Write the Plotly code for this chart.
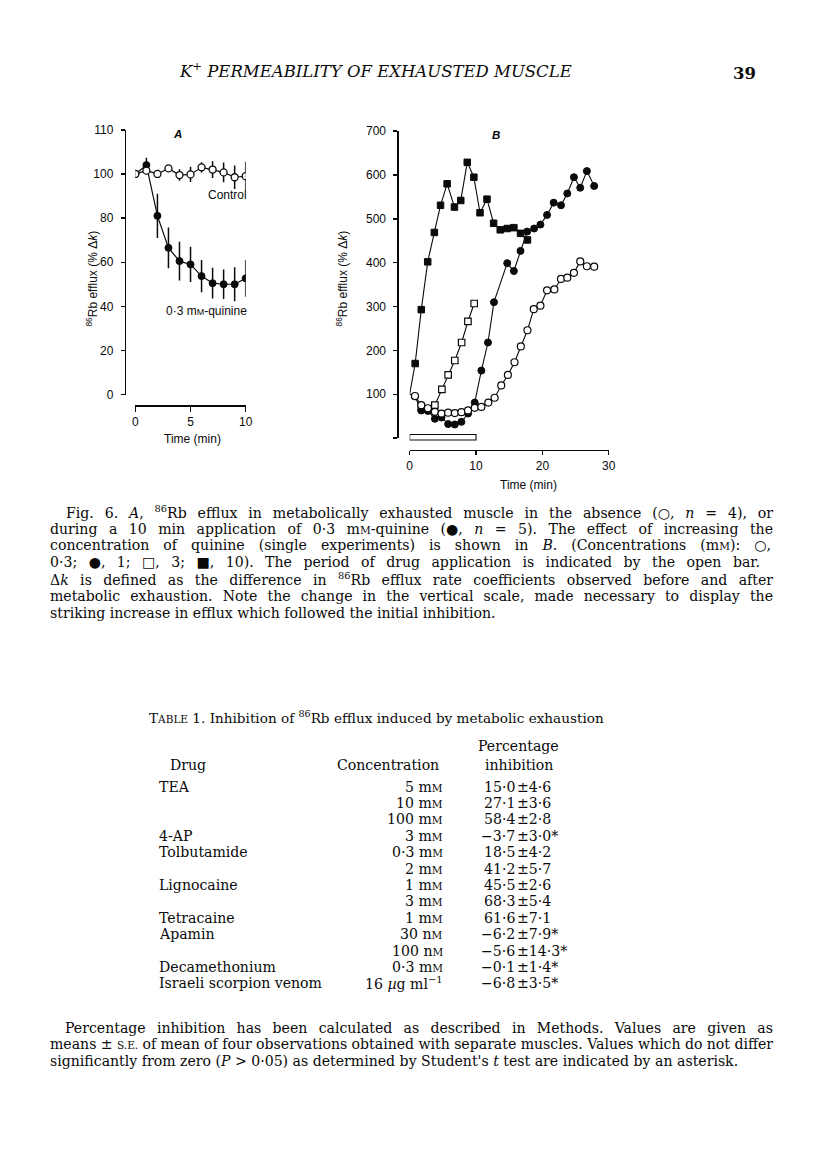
import json
import plotly.graph_objects as go

W, H = 816, 1170
def fx(px): return px / W
def fy(py): return 1 - py / H

# ---------------- Panel A data ----------------
a_time = [0, 1, 2, 3, 4, 5, 6, 7, 8, 9, 10]
a_control = [100, 101.5, 100, 102.5, 99.5, 99.8, 103, 102, 100.7, 98.5, 99]
a_control_err = [0, 0, 1.6, 0, 2.6, 3.5, 2.3, 3.8, 4.5, 5.3, 6.5]
a_quinine = [100, 104, 81, 66.5, 60.5, 59, 53.7, 50.5, 50, 50, 52.7]
a_quinine_err = [0, 3.3, 10, 9.2, 8.8, 8, 7.3, 7, 6.7, 7.7, 8.3]
a_yticks = [0, 20, 40, 60, 80, 100, 120]
a_yticklabels = ["0", "20", "40", "60", "80", "100", "110"]
a_xticks = [0, 5, 10]

# ---------------- Panel B data ----------------
b_start_t, b_start_v = 0, 100
b_oc_t = [0.8, 1.75, 2.75, 3.8, 4.8, 5.8, 6.8, 7.8, 8.8, 9.8, 10.8, 11.85, 12.8, 13.8,
          14.8, 15.8, 16.75, 17.75, 18.7, 19.7, 20.7, 21.8, 22.8, 23.75, 24.75, 25.7, 26.7, 27.8]
b_oc_v = [96, 75, 68, 60, 56, 58, 57, 59, 63, 69, 71, 81, 92, 120,
          144, 173, 209, 246, 294, 302, 337, 339, 363, 366, 377, 403, 392, 391]
b_fc_t = [0.8, 1.75, 2.75, 3.8, 4.8, 5.8, 6.8, 7.8, 8.8, 9.8, 10.8, 11.8, 12.7, 14.7,
          15.7, 16.7, 17.7, 18.75, 19.7, 20.7, 21.7, 22.8, 23.75, 24.75, 25.7, 26.7, 27.8]
b_fc_v = [95, 63, 62, 44, 47, 32, 31, 37, 56, 81, 154, 218, 310, 399,
          381, 427, 471, 478, 487, 509, 537, 531, 558, 595, 571, 609, 575]
b_os_t = [1.75, 2.75, 3.8, 4.85, 5.8, 6.8, 7.83, 8.78, 9.72]
b_os_v = [70, 66, 75, 111, 144, 177, 218, 266, 307]
b_fs_t = [0.83, 1.75, 2.72, 3.72, 4.65, 5.65, 6.75, 7.7, 8.68, 9.67, 10.6, 11.65,
          12.65, 13.65, 14.7, 15.7, 16.7, 17.75]
b_fs_v = [170, 293, 402, 469, 531, 580, 527, 542, 629, 595, 514, 545,
          490, 475, 478, 480, 467, 452]
b_drug_period = [0, 10]
b_yticks = [0, 100, 200, 300, 400, 500, 600, 700]
b_yticklabels = ["", "100", "200", "300", "400", "500", "600", "700"]
b_xticks = [0, 10, 20, 30]

# ---------------- Table data ----------------
t_drugs = ["TEA", "", "", "4-AP", "Tolbutamide", "", "Lignocaine", "", "Tetracaine",
           "Apamin", "", "Decamethonium", "Israeli scorpion venom"]
t_conc_val = ["5", "10", "100", "3", "0·3", "2", "1", "3", "1", "30", "100", "0·3", "16"]
t_conc_unit = ["mM", "mM", "mM", "mM", "mM", "mM", "mM", "mM", "mM", "nM", "nM", "mM", "ugml"]
t_mean = [15.0, 27.1, 58.4, -3.7, 18.5, 41.2, 45.5, 68.3, 61.6, -6.2, -5.6, -0.1, -6.8]
t_sem = [4.6, 3.6, 2.8, 3.0, 4.2, 5.7, 2.6, 5.4, 7.1, 7.9, 14.3, 1.4, 3.5]
t_nonsig = [False, False, False, True, False, False, False, False, False, True, True, True, True]

SERIF = "DejaVu Serif"
SANS = "Liberation Sans"
BLACK = "#0a0a0a"
BODY = 14.1


def sc(s, size):
    return "<span style='font-size:%gpx'>%s</span>" % (size, s)


def num(v):
    s = ("%.1f" % abs(v)).replace(".", "·")
    return ("−" + s) if v < 0 else s


fig = go.Figure()

# ---- Panel A traces ----
fig.add_trace(go.Scatter(
    x=a_time, y=a_quinine, mode="lines+markers", xaxis="x", yaxis="y",
    line=dict(color=BLACK, width=1.2),
    marker=dict(symbol="circle", size=7, color=BLACK, line=dict(color=BLACK, width=1)),
    error_y=dict(type="data", array=a_quinine_err, color=BLACK, thickness=1.5, width=0),
    showlegend=False))
fig.add_trace(go.Scatter(
    x=a_time, y=a_control, mode="lines+markers", xaxis="x", yaxis="y",
    line=dict(color=BLACK, width=1.2),
    marker=dict(symbol="circle", size=7, color="white", line=dict(color=BLACK, width=1.3)),
    error_y=dict(type="data", array=a_control_err, color=BLACK, thickness=1.5, width=0),
    showlegend=False))

# ---- Panel B traces ----
fs_t = [b_start_t] + b_fs_t
fs_v = [b_start_v] + b_fs_v
fig.add_trace(go.Scatter(
    x=fs_t, y=fs_v, mode="lines+markers", xaxis="x2", yaxis="y2",
    line=dict(color=BLACK, width=1.1),
    marker=dict(symbol="square", size=6.5, color=BLACK, line=dict(color=BLACK, width=1),
                opacity=[0] + [1] * len(b_fs_t)),
    showlegend=False))
fig.add_trace(go.Scatter(
    x=b_os_t, y=b_os_v, mode="lines+markers", xaxis="x2", yaxis="y2",
    line=dict(color=BLACK, width=1.1),
    marker=dict(symbol="square", size=6.5, color="white", line=dict(color=BLACK, width=1.2)),
    showlegend=False))
fig.add_trace(go.Scatter(
    x=b_fc_t, y=b_fc_v, mode="lines+markers", xaxis="x2", yaxis="y2",
    line=dict(color=BLACK, width=1.1),
    marker=dict(symbol="circle", size=7, color=BLACK, line=dict(color=BLACK, width=1)),
    showlegend=False))
oc_t = [b_start_t] + b_oc_t
oc_v = [b_start_v] + b_oc_v
fig.add_trace(go.Scatter(
    x=oc_t, y=oc_v, mode="lines+markers", xaxis="x2", yaxis="y2",
    line=dict(color=BLACK, width=1.1),
    marker=dict(symbol="circle", size=7, color="white", line=dict(color=BLACK, width=1.2),
                opacity=[0] + [1] * len(b_oc_t)),
    showlegend=False))

tickfont = dict(family=SANS, size=12, color=BLACK)
axcommon = dict(showgrid=False, zeroline=False, showline=True, linecolor=BLACK, linewidth=1.4,
                ticks="outside", tickcolor=BLACK, tickwidth=1.4, tickfont=tickfont,
                anchor="free")

fig.update_layout(
    width=W, height=H, margin=dict(l=0, r=0, t=0, b=0),
    paper_bgcolor="white", plot_bgcolor="rgba(0,0,0,0)",
    xaxis=dict(domain=[fx(134), fx(245.7)], range=[0, 10], tickvals=a_xticks,
               position=fy(403.3), ticklen=5, ticklabelstandoff=0, **axcommon),
    yaxis=dict(domain=[fy(392.3), fy(124.3)], range=[0, 120], tickvals=a_yticks,
               ticktext=a_yticklabels, position=fx(123.3), ticklen=4, ticklabelstandoff=5,
               **axcommon),
    xaxis2=dict(domain=[fx(411.7), fx(613.3)], range=[0, 30], tickvals=b_xticks,
                position=fy(448.3), ticklen=4, ticklabelstandoff=0, **axcommon),
    yaxis2=dict(domain=[fy(436.3), fy(125.7)], range=[0, 700], tickvals=b_yticks,
                ticktext=b_yticklabels, position=fx(399.3), ticklen=4, ticklabelstandoff=5,
                **axcommon),
)

# open bar showing drug period
fig.add_shape(type="rect", xref="x2", yref="paper", x0=b_drug_period[0], x1=b_drug_period[1],
              y0=fy(438.3), y1=fy(432.7), line=dict(color=BLACK, width=1.1), fillcolor="white")

ann = []
justify = []  # (annotation index, target width in px)


def text(x, y, s, size=BODY, family=SERIF, xanchor="left", yanchor="middle", target=None, **kw):
    if target is not None:
        justify.append([len(ann), target - x])
    ann.append(dict(x=fx(x), y=fy(y), xref="paper", yref="paper", text=s, showarrow=False,
                    xanchor=xanchor, yanchor=yanchor, borderpad=0,
                    align=xanchor if xanchor != "center" else "center",
                    font=dict(family=family, size=size, color=BLACK), **kw))


# header
text(377, 64, "<i>K<sup>+</sup> PERMEABILITY OF EXHAUSTED MUSCLE</i>", size=16.5, xanchor="center")
text(751, 67, "<b>39</b>", size=16.5, xanchor="center")

# panel labels
text(177, 129, "<i><b>A</b></i>", size=11.5, family=SANS, xanchor="center")
text(499, 130, "<i><b>B</b></i>", size=11.5, family=SANS, xanchor="center")
text(248, 190, "Control", size=12, family=SANS, xanchor="right")
text(248, 308, "0·3 m" + sc("M", 9) + "-quinine", size=12, family=SANS, xanchor="right")
text(192, 437, "Time (min)", size=12, family=SANS, xanchor="center")
text(532, 484, "Time (min)", size=12, family=SANS, xanchor="center")
ylab = "<sup>86</sup>Rb efflux (% Δ<i>k</i>)"
text(90, 275, ylab, size=12, family=SANS, xanchor="center", textangle=-90)
text(343, 275, ylab, size=12, family=SANS, xanchor="center", textangle=-90)

# caption
MM = "m" + sc("M", 10.5)
cap = [
    (63, 770, "Fig. 6. <i>A</i>, <sup>86</sup>Rb efflux in metabolically exhausted muscle in the absence (○, <i>n</i> = 4), or"),
    (47, 770, "during a 10 min application of 0·3 " + MM + "-quinine (●, <i>n</i> = 5). The effect of increasing the"),
    (47, 768, "concentration of quinine (single experiments) is shown in <i>B</i>. (Concentrations (" + MM + "): ○,"),
    (47, 757, "0·3; ●, 1; □, 3; ■, 10). The period of drug application is indicated by the open bar."),
    (47, 770, "Δ<i>k</i> is defined as the difference in <sup>86</sup>Rb efflux rate coefficients observed before and after"),
    (47, 770, "metabolic exhaustion. Note the change in the vertical scale, made necessary to display the"),
    (47, None, "striking increase in efflux which followed the initial inhibition."),
]
for i, (x0, x1, s) in enumerate(cap):
    text(x0, 511 + 17 * i, s, target=x1)

# table
text(147, 719, "T" + sc("ABLE", 10.5) + " 1. Inhibition of <sup>86</sup>Rb efflux induced by metabolic exhaustion",
     size=13.6)
text(187, 767, "Drug", xanchor="center")
text(390, 767, "Concentration", xanchor="center")
text(522, 748, "Percentage", xanchor="center")
text(522, 767, "inhibition", xanchor="center")
units = {"mM": MM, "nM": "n" + sc("M", 10.5), "ugml": "<i>µ</i>g ml<sup>−1</sup>"}
for i in range(len(t_drugs)):
    y = 789 + 16.6 * i
    if t_drugs[i]:
        text(157, y, t_drugs[i])
    text(446, y, t_conc_val[i] + " " + units[t_conc_unit[i]], xanchor="right")
    text(519.5, y, num(t_mean[i]), xanchor="right")
    text(519, y, "±" + num(t_sem[i]) + ("*" if t_nonsig[i] else ""))

# footnote
text(62, 1033, "Percentage inhibition has been calculated as described in Methods. Values are given as",
     target=770)
text(47, 1050, "means ± " + sc("S.E.", 10.5) + " of mean of four observations obtained with separate muscles. Values which do not differ",
     target=770)
text(47, 1067, "significantly from zero (<i>P</i> > 0·05) as determined by Student's <i>t</i> test are indicated by an asterisk.")

fig.update_layout(annotations=ann)

post = """
document.body.style.margin = '0';
document.body.style.padding = '0';
var gd = document.getElementById('{plot_id}');
var J = %s;
J.forEach(function(p) {
  var t = gd.querySelector('.annotation[data-index="' + p[0] + '"] text.annotation-text');
  if (!t) return;
  var n = (t.textContent.match(/[ \\u00a0]/g) || []).length;
  var w = t.getComputedTextLength();
  if (n > 0) t.style.wordSpacing = ((p[1] - w) / n) + 'px';
});
""" % json.dumps(justify)

fig.write_html("out.html", post_script=post, config={"displayModeBar": False, "staticPlot": True})
